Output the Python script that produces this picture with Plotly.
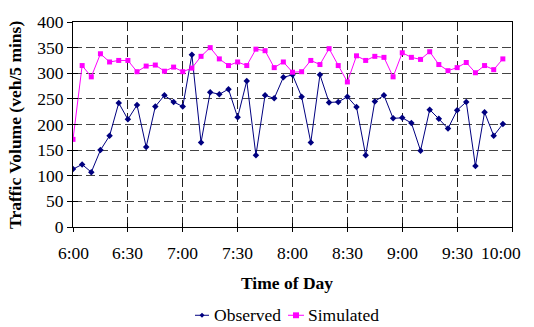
import pandas as pd
import plotly.graph_objects as go

# 5-minute intervals from 6:00 to 9:55
time_of_day = pd.date_range("2000-01-01 06:00", "2000-01-01 09:55", freq="5min")

observed = [113, 122, 107, 150, 178, 242, 210, 238, 156, 235, 257, 244,
            235, 336, 165, 263, 259, 269, 214, 285, 140, 257, 251, 292,
            297, 254, 165, 297, 243, 244, 254, 234, 140, 245, 257, 212,
            213, 203, 149, 229, 211, 192, 228, 244, 119, 224, 178, 201]

simulated = [171, 315, 293, 338, 322, 325, 325, 303, 314, 316, 304, 312,
             303, 310, 333, 350, 328, 315, 322, 315, 347, 344, 311, 322,
             302, 303, 325, 317, 348, 315, 283, 334, 325, 333, 331, 293,
             340, 331, 327, 342, 317, 305, 311, 321, 301, 315, 307, 328]

tick_times = pd.date_range("2000-01-01 06:00", "2000-01-01 10:00", freq="30min")
tick_labels = ["6:00", "6:30", "7:00", "7:30", "8:00", "8:30", "9:00", "9:30", "10:00"]
y_ticks = [0, 50, 100, 150, 200, 250, 300, 350, 400]

FONT = "Times New Roman, Liberation Serif, Tinos, serif"
FS = 17.5
W, H = 534, 327
L, R, T, B = 73, 22, 18, 100
PW, PH = W - L - R, H - T - B


def px(xp):
    return (xp - L) / PW


def py(yp):
    return (T + PH - yp) / PH


fig = go.Figure()
fig.add_trace(go.Scatter(
    x=time_of_day, y=observed, mode="lines+markers", name="Observed",
    line=dict(color="#000080", width=1),
    marker=dict(symbol="diamond", size=5, color="#000080"),
))
fig.add_trace(go.Scatter(
    x=time_of_day, y=simulated, mode="lines+markers", name="Simulated",
    line=dict(color="#FF00FF", width=1),
    marker=dict(symbol="square", size=5, color="#FF00FF"),
))

x_range = [tick_times[0], tick_times[-1]]
fig.update_layout(
    width=W, height=H,
    margin=dict(l=L, r=R, t=T, b=B),
    paper_bgcolor="white", plot_bgcolor="white",
    showlegend=False,
    font=dict(family=FONT, size=FS, color="black"),
    xaxis=dict(
        type="date", range=x_range, tickvals=list(tick_times),
        showticklabels=False, ticks="outside", ticklen=4, tickcolor="black",
        showgrid=True, gridcolor="#222222", griddash="9px,4px", gridwidth=1,
        showline=True, linecolor="black", linewidth=1, mirror=True,
        zeroline=False,
    ),
    xaxis2=dict(
        type="date", range=x_range, tickvals=list(tick_times),
        overlaying="x", anchor="y", side="bottom",
        showticklabels=False, ticks="inside", ticklen=4, tickcolor="black",
        showgrid=False, showline=False, zeroline=False,
    ),
    yaxis=dict(
        range=[0, 400], tickvals=y_ticks, ticks="outside", ticklen=5,
        tickcolor="black", tickfont=dict(family=FONT, size=FS),
        showgrid=True, gridcolor="#444444", griddash="9px,4px", gridwidth=1,
        showline=True, linecolor="black", linewidth=1, mirror=True,
        zeroline=False,
    ),
    yaxis2=dict(
        range=[0, 400], tickvals=y_ticks, overlaying="y", anchor="x",
        side="left", showticklabels=False, ticks="inside", ticklen=5,
        tickcolor="black", showgrid=False, showline=False, zeroline=False,
    ),
)

# invisible trace to activate the secondary axes used for cross tick marks
fig.add_trace(go.Scatter(x=[time_of_day[0]], y=[None], xaxis="x2", yaxis="y2",
                         showlegend=False, hoverinfo="skip"))

annotations = []
# x tick labels
for t, lab in zip(tick_times, tick_labels):
    shift = -11 if lab == "10:00" else 0
    annotations.append(dict(
        x=t, y=py(254), xref="x", yref="paper", text=lab, showarrow=False,
        xanchor="center", yanchor="middle", xshift=shift,
        font=dict(family=FONT, size=FS),
    ))
# axis titles
annotations.append(dict(
    x=px(287), y=py(284), xref="paper", yref="paper", text="<b>Time of Day</b>",
    showarrow=False, xanchor="center", yanchor="middle",
    font=dict(family=FONT, size=FS),
))
annotations.append(dict(
    x=px(15), y=py(123), xref="paper", yref="paper",
    text="<b>Traffic Volume (veh/5 mins)</b>", textangle=-90,
    showarrow=False, xanchor="center", yanchor="middle",
    font=dict(family=FONT, size=FS),
))
# legend labels
annotations.append(dict(
    x=px(212), y=py(317), xref="paper", yref="paper", text="Observed",
    showarrow=False, xanchor="left", yanchor="middle",
    font=dict(family=FONT, size=FS),
))
annotations.append(dict(
    x=px(306), y=py(317), xref="paper", yref="paper", text="Simulated",
    showarrow=False, xanchor="left", yanchor="middle",
    font=dict(family=FONT, size=FS),
))
fig.update_layout(annotations=annotations)

# legend glyphs
ly = py(317)
shapes = [
    dict(type="line", xref="paper", yref="paper", x0=px(195), x1=px(209),
         y0=ly, y1=ly, line=dict(color="#000080", width=1)),
    dict(type="path", xref="paper", yref="paper",
         path=f"M {px(202)} {py(314.5)} L {px(204.5)} {ly} L {px(202)} {py(319.5)} L {px(199.5)} {ly} Z",
         fillcolor="#000080", line=dict(color="#000080", width=0)),
    dict(type="line", xref="paper", yref="paper", x0=px(288), x1=px(304),
         y0=ly, y1=ly, line=dict(color="#FF00FF", width=1)),
    dict(type="rect", xref="paper", yref="paper", x0=px(293), x1=px(299),
         y0=py(320), y1=py(314), fillcolor="#FF00FF",
         line=dict(color="#FF00FF", width=0)),
]
fig.update_layout(shapes=shapes)

fig.write_html("out.html")
